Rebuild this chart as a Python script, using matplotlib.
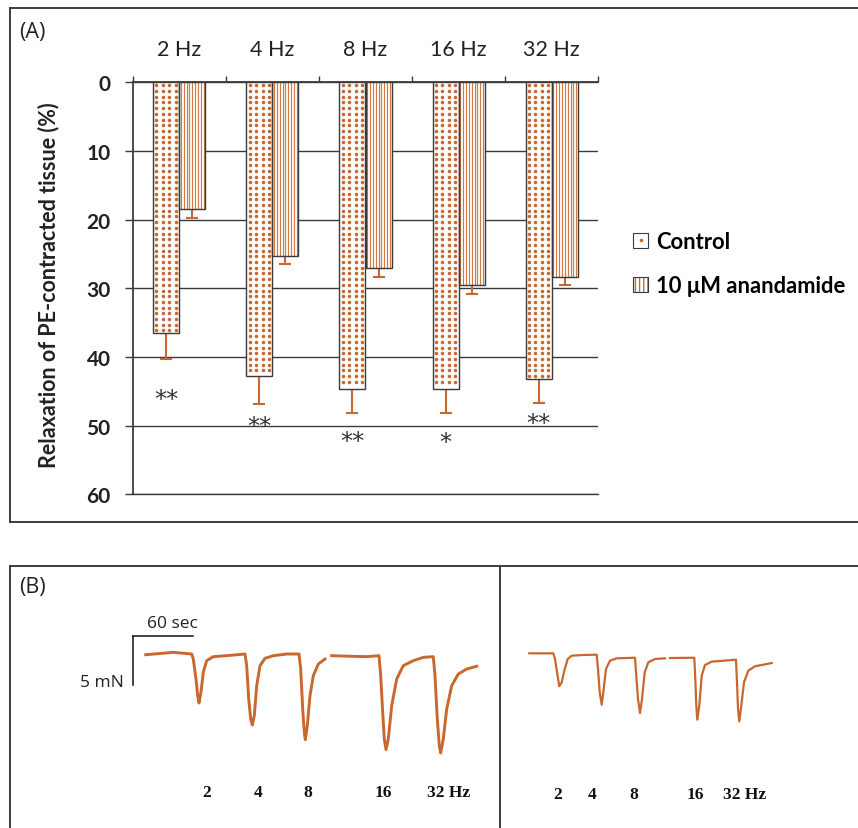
import numpy as np
import matplotlib
matplotlib.use("Agg")
import matplotlib.pyplot as plt
from matplotlib.patches import Patch
from matplotlib.lines import Line2D
from matplotlib.legend_handler import HandlerTuple

W, H = 858, 829

# ---------------- panel A : bar chart ----------------
FREQS = ["2 Hz", "4 Hz", "8 Hz", "16 Hz", "32 Hz"]
SERIES = ["Control", "10 μM anandamide"]
CONTROL = [36.5, 42.7, 44.6, 44.6, 43.2]
CONTROL_ERR = [3.8, 4.2, 3.6, 3.5, 3.5]
ANANDAMIDE = [18.5, 25.3, 27.1, 29.5, 28.3]
ANANDAMIDE_ERR = [1.3, 1.2, 1.2, 1.3, 1.2]
SIG_MARKS = ["**", "**", "**", "*", "**"]
SIG_Y = [45.3, 49.2, 51.4, 51.6, 48.8]
Y_TICKS = [0, 10, 20, 30, 40, 50, 60]

# ---------------- panel B : tension recordings (s, mN) ----------------
# left: control, right: with anandamide ; trace broken in two pieces each
LEFT_T1 = [0, 27.6, 46, 47.6, 50.3, 52, 53.3, 55.3, 57.6, 61, 67.6, 81, 99.3,
           101, 103, 105, 106.6, 108.6, 111, 114.3, 119.3, 127.6, 141, 153.3,
           155, 157, 158.6, 159.6, 161.6, 164.3, 167.6, 172.6, 179.3]
LEFT_F1 = [0, 0.24, 0.07, -0.44, -2.48, -4.18, -4.93, -3.81, -1.77, -0.61, -0.2, -0.1, 0.07,
           -1.12, -4.52, -6.56, -7.17, -6.22, -3.16, -1.12, -0.37, -0.1, 0.07, 0.07,
           -1.46, -5.54, -7.92, -8.67, -7.24, -4.18, -2.14, -0.95, -0.44]
LEFT_T2 = [186, 204.3, 221, 233.3, 235, 237, 238.6, 240.3, 242.6, 246, 251, 257.6,
           267.6, 277.6, 287.6, 289.3, 291.6, 293.6, 295, 297.6, 301, 306, 312.6, 321, 331]
LEFT_F2 = [-0.1, -0.16, -0.2, -0.1, -2.14, -5.88, -8.6, -9.69, -8.6, -5.2, -2.48, -1.12,
           -0.61, -0.27, -0.2, -2.14, -6.56, -9.29, -10.03, -8.6, -5.54, -3.16, -1.97, -1.46, -1.18]

RIGHT_T1 = [0, 24, 25.7, 28, 30, 32.4, 35, 38.4, 42.4, 54, 67.4, 68.7, 70.4, 72.4, 74,
            76.7, 80.7, 87.4, 105.7, 107, 108.7, 110.7, 112.7, 115.4, 119, 125.7, 135.7]
RIGHT_F1 = [0.14, 0.14, -0.44, -1.97, -3.22, -2.82, -1.63, -0.44, -0.1, -0.03, 0, -1.46,
            -3.84, -5.1, -3.84, -1.46, -0.61, -0.37, -0.31, -2.14, -4.52, -5.95, -4.52,
            -1.8, -0.78, -0.44, -0.37]
RIGHT_T2 = [140.7, 165, 166, 167, 168, 170, 172.4, 175.7, 182.4, 206.7, 207.7, 208.7,
            210, 212, 214.7, 219, 225.7, 242.4]
RIGHT_F2 = [-0.34, -0.31, -2.48, -5.2, -6.63, -5.2, -2.14, -1.05, -0.71, -0.51, -2.82,
            -5.54, -6.8, -5.2, -2.82, -1.63, -1.18, -0.85]

STIM_LABELS = ["2", "4", "8", "16", "32 Hz"]
LEFT_LABEL_T = [61.3, 112.3, 162.3, 237.3, 303.3]
RIGHT_LABEL_T = [28.7, 62.7, 104.7, 165.7, 215.7]
SCALE_SEC = 60
SCALE_MN = 5

ORANGE = "#C8682F"
STRIPE = "#CF7A47"
DARK = "#3a3a3a"
TEXT = "#222222"

plt.rcParams["font.family"] = ["Lato", "DejaVu Sans"]


def px_axes(fig, x0, y0, x1, y1):
    return fig.add_axes([x0 / W, 1 - y1 / H, (x1 - x0) / W, (y1 - y0) / H])


fig = plt.figure(figsize=(W / 100, H / 100), dpi=100)

# frames around the two panels (pixel space)
bg = px_axes(fig, 0, 0, W, H)
bg.set_xlim(0, W)
bg.set_ylim(H, 0)
bg.axis("off")
fcol = "#3d3d3d"
bg.plot([9.5, W + 5], [9, 9], color=fcol, lw=1.4)
bg.plot([9.5, W + 5], [522.5, 522.5], color=fcol, lw=1.4)
bg.plot([9.5, 9.5], [9, 522.5], color=fcol, lw=1.4)
bg.plot([10, W + 5], [567, 567], color=fcol, lw=1.4)
bg.plot([10, 10], [567, H + 5], color=fcol, lw=1.4)
bg.plot([500, 500], [567, H + 5], color=fcol, lw=1.4)
bg.text(19, 32, "(A)", fontsize=15.5, family="Open Sans", color=TEXT, va="center")
bg.text(19, 587, "(B)", fontsize=15.5, family="Open Sans", color=TEXT, va="center")

# ---------------- panel A ----------------
ax = px_axes(fig, 132.7, 83.3, 598.3, 495.3)
n = len(FREQS)
centers = np.arange(n) + 0.5
bw = 0.28
x_ctrl = centers - bw / 2
x_anan = centers + bw / 2

ax.set_xlim(0, n)
ax.set_ylim(60, 0)
ax.set_axisbelow(True)
ax.yaxis.grid(True, color=DARK, lw=1.0)

ax.errorbar(x_ctrl, CONTROL, yerr=[[0] * n, CONTROL_ERR], fmt="none",
            ecolor=ORANGE, elinewidth=1.5, capsize=4.5, capthick=1.5, zorder=2)
ax.errorbar(x_anan, ANANDAMIDE, yerr=[[0] * n, ANANDAMIDE_ERR], fmt="none",
            ecolor=ORANGE, elinewidth=1.5, capsize=4.5, capthick=1.5, zorder=2)

ax.bar(x_ctrl, CONTROL, width=bw, color="white", lw=0, zorder=3)
ax.bar(x_anan, ANANDAMIDE, width=bw, color="white", lw=0, zorder=3)

# dotted fill for control, striped fill for anandamide
for xc, v in zip(x_ctrl, CONTROL):
    cols = xc - bw / 2 + bw * (np.arange(4) + 0.5) / 4
    rows = np.arange(0.45, v - 0.2, 0.83)
    gx, gy = np.meshgrid(cols, rows)
    ax.scatter(gx.ravel(), gy.ravel(), s=6.5, color=ORANGE, lw=0, zorder=4)
for xa, v in zip(x_anan, ANANDAMIDE):
    cols = xa - bw / 2 + bw * (np.arange(9) + 0.5) / 9
    ax.vlines(cols, 0, v, colors=STRIPE, lw=0.85, zorder=4)

ax.bar(x_ctrl, CONTROL, width=bw, fill=False, edgecolor=DARK, lw=1.0, zorder=5)
ax.bar(x_anan, ANANDAMIDE, width=bw, fill=False, edgecolor=DARK, lw=1.0, zorder=5)

for xc, mark, ys in zip(x_ctrl, SIG_MARKS, SIG_Y):
    ax.annotate(mark, (xc, ys), xytext=(0, -4), textcoords="offset points",
                ha="center", va="center", fontsize=17.5, color="#333333",
                family="DejaVu Sans", zorder=6)

for side in ["right", "bottom"]:
    ax.spines[side].set_visible(False)
ax.spines["top"].set_color(DARK)
ax.spines["top"].set_linewidth(1.3)
ax.spines["left"].set_color(DARK)
ax.spines["left"].set_linewidth(1.3)
ax.axhline(60, color=DARK, lw=1.0, clip_on=False)

ax.xaxis.tick_top()
ax.set_xticks(np.arange(n + 1))
ax.set_xticklabels([])
ax.set_xticks(centers, minor=True)
ax.set_xticklabels(FREQS, minor=True, fontsize=15.5, color=TEXT)
ax.tick_params(axis="x", which="major", direction="out", length=4, width=1.0, color=DARK)
ax.tick_params(axis="x", which="minor", length=0, pad=17)

ax.set_yticks(Y_TICKS)
ax.set_yticklabels([str(t) for t in Y_TICKS], fontsize=15, fontweight="bold", color=TEXT)
ax.tick_params(axis="y", direction="out", length=6, width=1.0, color=DARK, pad=10)
ax.set_ylabel("Relaxation of PE-contracted tissue (%)", fontsize=15.5,
              fontweight="bold", color=TEXT)
ax.yaxis.set_label_coords(-0.158, 0.51)

ctrl_handle = (Patch(facecolor="white", edgecolor=DARK, lw=0.8),
               Line2D([], [], ls="none", marker="o", ms=2.6, color=ORANGE, mew=0))
anan_handle = (Patch(facecolor="white", edgecolor=ORANGE, hatch="||||", lw=0),
               Patch(fill=False, edgecolor=DARK, lw=0.8))
fig.legend([ctrl_handle, anan_handle], SERIES,
           handler_map={tuple: HandlerTuple(ndivide=1, pad=0)},
           loc="upper left", bbox_to_anchor=(633 / W, 1 - 232 / H),
           frameon=False, prop={"family": "Lato", "weight": "bold", "size": 15.8},
           handlelength=0.7, handleheight=0.7, handletextpad=0.35,
           labelspacing=1.05, borderpad=0, borderaxespad=0)

# ---------------- panel B ----------------
f_top = 655.7 - 567
f_bot = 655.7 - 829
mn_px = 9.8  # pixels per mN (same px scale as 1 px per second)

axL = px_axes(fig, 10, 567, 500, 829)
axL.set_xlim(10 - 145.7, 500 - 145.7)
axL.set_ylim(f_bot / mn_px, f_top / mn_px)
axL.axis("off")
axL.plot(LEFT_T1, LEFT_F1, color=ORANGE, lw=2.1, solid_joinstyle="round")
axL.plot(LEFT_T2, LEFT_F2, color=ORANGE, lw=2.1, solid_joinstyle="round")

# scale bar
sb_t0, sb_f0 = -13, 1.9
axL.plot([sb_t0, sb_t0 + SCALE_SEC], [sb_f0, sb_f0], color="#111111", lw=1.1)
axL.plot([sb_t0, sb_t0], [sb_f0, sb_f0 - SCALE_MN], color="#111111", lw=1.1)
axL.text(sb_t0 + SCALE_SEC / 2 + 10, sb_f0 + 0.55, f"{SCALE_SEC} sec", ha="center",
         va="bottom", fontsize=12.5, family="Open Sans", color=TEXT)
axL.text(sb_t0 - 9, sb_f0 - SCALE_MN + 0.35, f"{SCALE_MN} mN", ha="right", va="center",
         fontsize=12.5, family="Open Sans", color=TEXT)

for lab, t in zip(STIM_LABELS, LEFT_LABEL_T):
    axL.text(t, -14.0, lab, ha="center", va="center", fontsize=12.5,
             family="Liberation Serif", fontweight="bold", color="#111111")

axR = px_axes(fig, 500, 567, 858, 829)
axR.set_xlim(500 - 529.3, 858 - 529.3)
axR.set_ylim(f_bot / mn_px, f_top / mn_px)
axR.axis("off")
axR.plot(RIGHT_T1, RIGHT_F1, color=ORANGE, lw=1.6, solid_joinstyle="round")
axR.plot(RIGHT_T2, RIGHT_F2, color=ORANGE, lw=1.6, solid_joinstyle="round")
for lab, t in zip(STIM_LABELS, RIGHT_LABEL_T):
    axR.text(t, -14.2, lab, ha="center", va="center", fontsize=12.5,
             family="Liberation Serif", fontweight="bold", color="#111111")

fig.savefig("out.png", dpi=100)
